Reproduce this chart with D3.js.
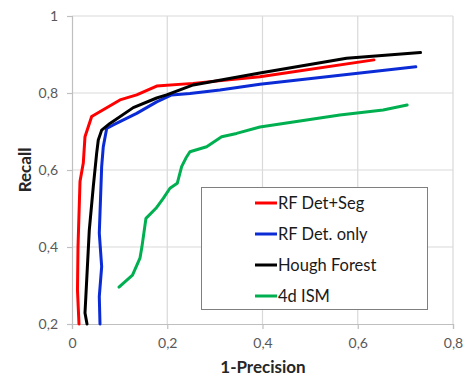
<!DOCTYPE html>
<html><head><meta charset="utf-8">
<script src="https://cdn.jsdelivr.net/npm/d3@7"></script>
<style>body{margin:0;background:#fff}svg{display:block}</style>
</head><body>
<div id="chart"></div>
<script>
const seriesNames = ["RF Det+Seg","RF Det. only","Hough Forest","4d ISM"];
const seriesColors = ["#ff0000","#0a2bd6","#000000","#00b050"];
const rfDetSeg = [[0.0147,0.2],[0.0115,0.288],[0.0126,0.4],[0.0168,0.570],[0.0237,0.618],[0.0273,0.6865],[0.0413,0.739],[0.1007,0.782],[0.1358,0.795],[0.1778,0.818],[0.254,0.825],[0.3946,0.842],[0.634,0.886]];
const rfDetOnly = [[0.0588,0.2],[0.0573,0.271],[0.0623,0.349],[0.0573,0.436],[0.0623,0.609],[0.0657,0.6605],[0.0728,0.708],[0.0867,0.717],[0.1358,0.747],[0.1778,0.777],[0.2092,0.795],[0.2476,0.799],[0.3106,0.808],[0.3946,0.823],[0.7219,0.868]];
const houghForest = [[0.0315,0.2],[0.0273,0.2286],[0.0363,0.444],[0.0447,0.5566],[0.0518,0.644],[0.0552,0.678],[0.0623,0.7036],[0.0797,0.721],[0.1286,0.762],[0.1778,0.787],[0.1987,0.795],[0.2546,0.821],[0.3946,0.852],[0.5765,0.89],[0.7318,0.905]];
const ism4d = [[0.0986,0.296],[0.127,0.327],[0.1427,0.371],[0.1469,0.401],[0.1553,0.4745],[0.1763,0.5005],[0.1916,0.5265],[0.2057,0.5525],[0.221,0.5655],[0.2302,0.6086],[0.2392,0.631],[0.2476,0.6475],[0.2827,0.6605],[0.3142,0.6865],[0.3456,0.695],[0.3946,0.7117],[0.5624,0.743],[0.6533,0.756],[0.7037,0.769]];
const seriesData = [rfDetSeg, rfDetOnly, houghForest, ism4d];
const xTicks = [0,0.2,0.4,0.6,0.8];
const yTicks = [0.2,0.4,0.6,0.8,1];
const xTitle = "1-Precision", yTitle = "Recall";

const W=467,H=376;
const m={left:72,right:14,top:16,bottom:52};
const svg=d3.select("#chart").append("svg").attr("width",W).attr("height",H);
const x=d3.scaleLinear().domain([0,0.8]).range([m.left,W-m.right]);
const y=d3.scaleLinear().domain([0.2,1]).range([H-m.bottom,m.top]);
const fmt=d=>d===1?"1":(d===0?"0":d3.format(".1f")(d).replace(".",","));
const font="Lato, 'Open Sans', sans-serif";

// gridlines
svg.append("g").selectAll("line.v").data(xTicks.slice(1)).join("line")
  .attr("x1",d=>x(d)).attr("x2",d=>x(d)).attr("y1",y(1)).attr("y2",y(0.2))
  .attr("stroke","#d9d9d9").attr("stroke-width",1.2);
svg.append("g").selectAll("line.h").data(yTicks.slice(1)).join("line")
  .attr("x1",x(0)).attr("x2",x(0.8)).attr("y1",d=>y(d)).attr("y2",d=>y(d))
  .attr("stroke","#d9d9d9").attr("stroke-width",1.2);

// axes
const xa=svg.append("g").attr("transform",`translate(0,${y(0.2)})`)
  .call(d3.axisBottom(x).tickValues(xTicks).tickFormat(fmt).tickSize(5).tickPadding(9));
const ya=svg.append("g").attr("transform",`translate(${x(0)},0)`)
  .call(d3.axisLeft(y).tickValues(yTicks).tickFormat(fmt).tickSize(5).tickPadding(9));
[xa,ya].forEach(a=>{
  a.select(".domain").attr("stroke","#bfbfbf").attr("stroke-width",1.2);
  a.selectAll(".tick line").attr("stroke","#bfbfbf").attr("stroke-width",1.2);
  a.selectAll("text").attr("fill","#595959").style("font-family",font).style("font-size","14px");
});

// lines
const line=d3.line().x(d=>x(d[0])).y(d=>y(d[1]));
svg.append("g").selectAll("path").data(seriesData).join("path")
  .attr("d",line).attr("fill","none")
  .attr("stroke",(d,i)=>seriesColors[i]).attr("stroke-width",3)
  .attr("stroke-linejoin","round").attr("stroke-linecap","round");

// titles
svg.append("text").attr("x",263).attr("y",373).attr("text-anchor","middle")
  .style("font-family",font).style("font-weight","bold").style("font-size","17px").attr("fill","#262626").text(xTitle);
svg.append("text").attr("transform",`translate(31,${(y(0.2)+y(1))/2}) rotate(-90)`).attr("text-anchor","middle")
  .style("font-family",font).style("font-weight","bold").style("font-size","17px").attr("fill","#262626").text(yTitle);

// legend
const lg=svg.append("g");
lg.append("rect").attr("x",201.5).attr("y",187.5).attr("width",226).attr("height",122)
  .attr("fill","#fff").attr("stroke","#7f7f7f").attr("stroke-width",1);
const rows=[203,234,265,296];
seriesNames.forEach((n,i)=>{
  lg.append("line").attr("x1",255).attr("x2",277).attr("y1",rows[i]).attr("y2",rows[i])
    .attr("stroke",seriesColors[i]).attr("stroke-width",3);
  lg.append("text").attr("x",278).attr("y",rows[i]).attr("dy","0.35em")
    .style("font-family",font).style("font-size","16.5px").attr("fill","#1a1a1a").text(n);
});
</script>
</body></html>
